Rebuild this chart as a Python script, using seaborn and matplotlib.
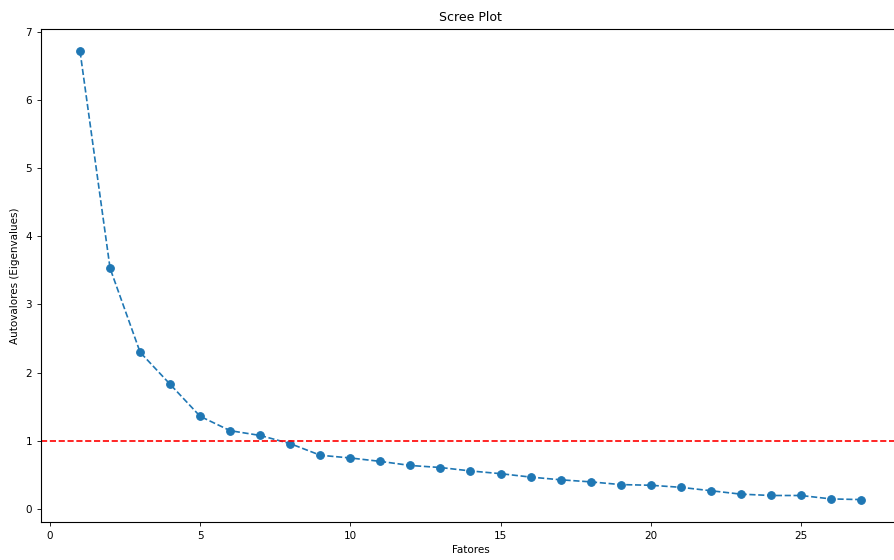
import matplotlib
matplotlib.use("Agg")
import matplotlib.pyplot as plt
import seaborn as sns
import pandas as pd

fatores = list(range(1, 28))
autovalores = [6.71, 3.53, 2.30, 1.83, 1.36, 1.15, 1.08, 0.96, 0.79, 0.75,
               0.70, 0.64, 0.61, 0.56, 0.52, 0.47, 0.43, 0.40, 0.36, 0.35,
               0.32, 0.27, 0.22, 0.20, 0.20, 0.15, 0.14]
limiar = 1.0

df = pd.DataFrame({"Fatores": fatores, "Autovalores": autovalores})

plt.rcParams['font.family'] = ['DejaVu Sans']
fig = plt.figure(figsize=(8.94, 5.6), dpi=100)
ax = fig.add_axes([41/894, 1 - 522/560, (900 - 41)/894, (522 - 29)/560])

sns.lineplot(data=df, x="Fatores", y="Autovalores", ax=ax, marker="o",
             linestyle="--", color="#1f77b4", linewidth=1.2,
             markersize=5.5, markeredgecolor="#1f77b4", markeredgewidth=0.8)
ax.axhline(limiar, color="r", linestyle="--", linewidth=1.2)

ax.set_title("Scree Plot", fontsize=9)
ax.set_xlabel("Fatores", fontsize=7.5, labelpad=3)
ax.set_ylabel("Autovalores (Eigenvalues)", fontsize=7.5)
ax.tick_params(labelsize=7.5, length=3, width=0.6)
for s in ax.spines.values():
    s.set_linewidth(0.8)
ax.set_xticks([0, 5, 10, 15, 20, 25])

fig.savefig("out.png", dpi=100)
